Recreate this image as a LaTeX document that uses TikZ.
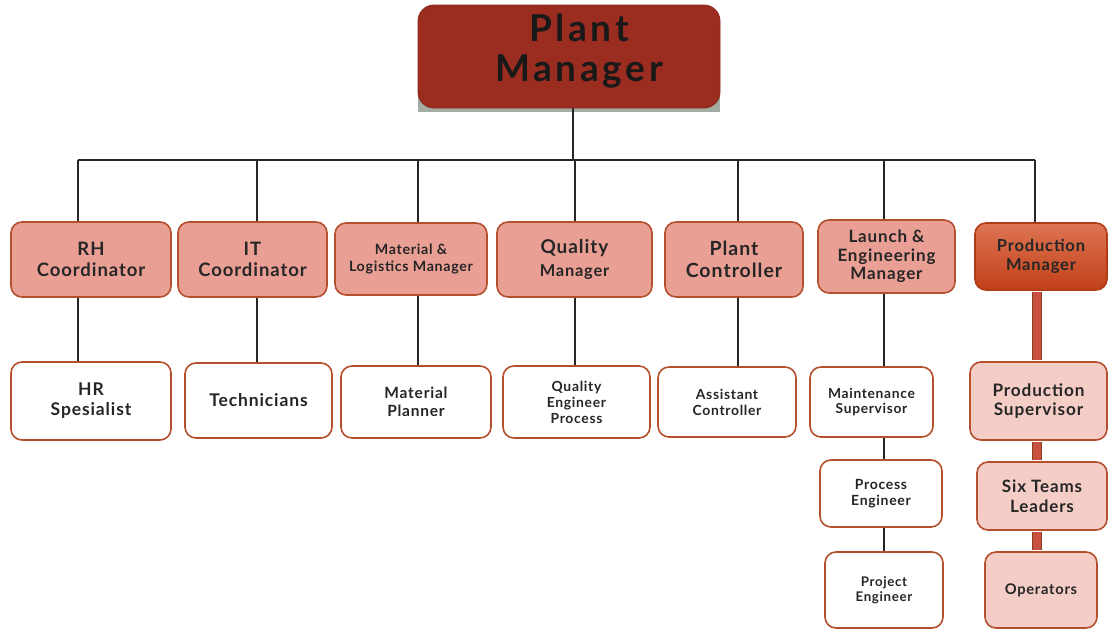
\documentclass[tikz,border=0pt]{standalone}
\usepackage{fontspec}
\setmainfont{Lato}[LetterSpace=5]
\newfontfamily\pmfont{Lato}[LetterSpace=10]
\definecolor{pmred}{HTML}{9B2C20}
\definecolor{pmshadow}{HTML}{A3ADA3}
\definecolor{salmon}{HTML}{EA9F95}
\definecolor{edge}{HTML}{B5502F}
\definecolor{orangebox}{HTML}{D2461A}
\definecolor{lightpink}{HTML}{F5CDC7}
\definecolor{txt}{HTML}{262626}
\definecolor{thick}{HTML}{C9513F}
\tikzset{
  base/.style={rounded corners=11pt, line width=1.6pt, draw=edge, align=center,
    text=txt, font=\bfseries, inner sep=1pt},
  lvltwo/.style={base, fill=salmon},
  lvlthree/.style={base, fill=white},
  prodbox/.style={base, fill=lightpink},
  conn/.style={line width=1.6pt, draw=black!85},
  thickconn/.style={line width=1pt, draw=edge!75!black, double=thick, double distance=8pt}
}
\newcommand{\fs}[1]{\fontsize{#1}{\fpeval{1.15*#1}}\selectfont}
\begin{document}
\begin{tikzpicture}[x=1pt,y=-1pt]
\useasboundingbox (0,0) rectangle (1108,632);
% bus coordinates
\coordinate (bt) at (573,160);
\coordinate (b1) at (78,160);
\coordinate (b2) at (257,160);
\coordinate (b3) at (418,160);
\coordinate (b4) at (575,160);
\coordinate (b5) at (738,160);
\coordinate (b6) at (884,160);
\coordinate (b7) at (1035,160);
\coordinate (b8) at (1037,160);

% top
\fill[pmshadow] (418,60) rectangle (720,112);
\node[rounded corners=16pt, fill=pmred, draw=pmred!90!black, line width=0.8pt,
  minimum width=302pt, minimum height=103pt, align=center, text=black!90,
  font=\pmfont\bfseries\fs{37}, inner sep=0pt] (pm) at (569,56.5)
  {\hspace*{20pt}Plant\\[-3pt]\hspace*{20pt}Manager\rule[-17pt]{0pt}{0pt}};

% level 2
\node[lvltwo, minimum width=160pt, minimum height=75pt, font=\bfseries\fs{18.5}] (rh) at (91,259.5) {RH\\Coordinator};
\node[lvltwo, minimum width=149pt, minimum height=75pt, font=\bfseries\fs{18.5}] (it) at (252.5,259.5) {IT\\Coordinator};
\node[lvltwo, minimum width=152pt, minimum height=72pt, font=\bfseries\fs{14.2}] (ml) at (411,259) {Material \&\\Logistics Manager};
\node[lvltwo, minimum width=155pt, minimum height=75pt, font=\bfseries\fs{19}] (qm) at (574.5,259.5) {Quality\\[1pt]{\fs{16.4}Manager}};
\node[lvltwo, minimum width=138pt, minimum height=75pt, font=\bfseries\fs{19.5}] (pc) at (734,259.5) {Plant\\Controller};
\node[lvltwo, minimum width=137pt, minimum height=73pt, font=\bfseries\fs{17}] (le) at (886.5,256.5) {Launch \&\\[-1pt]Engineering\\[-1pt]Manager};
\node[base, top color=orangebox!75!white, bottom color=orangebox!92!black, draw=orangebox!85!black, minimum width=132pt, minimum height=67pt, font=\bfseries\fs{16.5}, text=black!85] (prm) at (1041,256.5) {Production\\Manager};

% level 3
\node[lvlthree, minimum width=160pt, minimum height=78pt, font=\bfseries\fs{17.5}] (hr) at (91,401) {HR\\Spesialist};
\node[lvlthree, minimum width=147pt, minimum height=75pt, font=\bfseries\fs{17.5}] (tech) at (258.5,400.5) {Technicians};
\node[lvlthree, minimum width=150pt, minimum height=72pt, font=\bfseries\fs{15.5}] (mp) at (416,402) {Material\\Planner};
\node[lvlthree, minimum width=147pt, minimum height=72pt, font=\bfseries\fs{13.9}] (qep) at (576.5,402) {Quality\\Engineer\\Process};
\node[lvlthree, minimum width=138pt, minimum height=70pt, font=\bfseries\fs{13.9}] (ac) at (727,402) {Assistant\\Controller};
\node[lvlthree, minimum width=123pt, minimum height=70pt, font=\bfseries\fs{13.8}] (ms) at (871.5,402) {Maintenance\\Supervisor};
\node[lvlthree, minimum width=122pt, minimum height=67pt, font=\bfseries\fs{14}] (pe) at (881,493.5) {Process\\Engineer};
\node[lvlthree, minimum width=118pt, minimum height=76pt, font=\bfseries\fs{13.3}] (pje) at (884,590) {Project\\Engineer};
\node[prodbox, minimum width=137pt, minimum height=78pt, font=\bfseries\fs{17.2}] (ps) at (1038.5,401) {Production\\Supervisor};
\node[prodbox, minimum width=130pt, minimum height=68pt, font=\bfseries\fs{17}] (stl) at (1042,496) {Six Teams\\Leaders};
\node[prodbox, minimum width=112pt, minimum height=76pt, font=\bfseries\fs{14.7}] (op) at (1041,590) {Operators};

% connectors
\draw[conn] (b1) -- (b7);
\draw[conn] (pm.south -| bt) -- (bt);
\draw[conn] (b1) -- (b1 |- rh.north);
\draw[conn] (b2) -- (b2 |- it.north);
\draw[conn] (b3) -- (b3 |- ml.north);
\draw[conn] (b4) -- (b4 |- qm.north);
\draw[conn] (b5) -- (b5 |- pc.north);
\draw[conn] (b6) -- (b6 |- le.north);
\draw[conn] (b7) -- (b7 |- prm.north);
\draw[conn] (b1 |- rh.south) -- (b1 |- hr.north);
\draw[conn] (b2 |- it.south) -- (b2 |- tech.north);
\draw[conn] (b3 |- ml.south) -- (b3 |- mp.north);
\draw[conn] (b4 |- qm.south) -- (b4 |- qep.north);
\draw[conn] (b5 |- pc.south) -- (b5 |- ac.north);
\draw[conn] (b6 |- le.south) -- (b6 |- ms.north);
\draw[conn] (b6 |- ms.south) -- (b6 |- pe.north);
\draw[conn] (b6 |- pe.south) -- (b6 |- pje.north);
\draw[thickconn] ([yshift=-0.8pt]b8 |- prm.south) -- ([yshift=0.8pt]b8 |- ps.north);
\draw[thickconn] ([yshift=-0.8pt]b8 |- ps.south) -- ([yshift=0.8pt]b8 |- stl.north);
\draw[thickconn] ([yshift=-0.8pt]b8 |- stl.south) -- ([yshift=0.8pt]b8 |- op.north);
\end{tikzpicture}
\end{document}
